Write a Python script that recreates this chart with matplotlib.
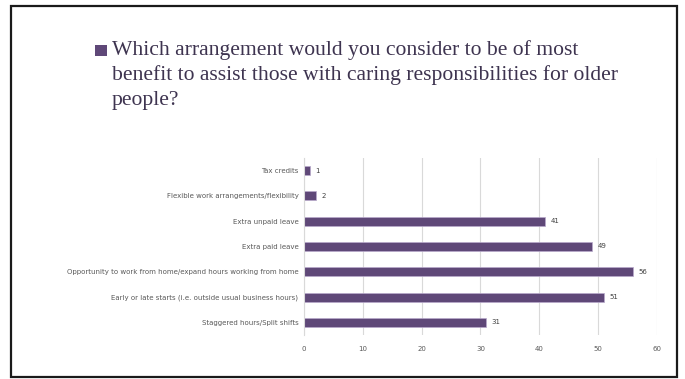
import matplotlib
matplotlib.use("Agg")
from matplotlib import pyplot as plt
from matplotlib.patches import Rectangle

categories = [
    "Staggered hours/Split shifts",
    "Early or late starts (i.e. outside usual business hours)",
    "Opportunity to work from home/expand hours working from home",
    "Extra paid leave",
    "Extra unpaid leave",
    "Flexible work arrangements/flexibility",
    "Tax credits",
]
values = [31, 51, 56, 49, 41, 2, 1]
xticks = [0, 10, 20, 30, 40, 50, 60]
title_lines = [
    "Which arrangement would you consider to be of most",
    "benefit to assist those with caring responsibilities for older",
    "people?",
]

W, H = 685, 379
fig = plt.figure(figsize=(W / 100, H / 100), dpi=100)
fig.patch.set_facecolor("white")

# slide frame
fig.add_artist(Rectangle((11 / W, 1 - 377 / H), 666 / W, 371 / H, transform=fig.transFigure,
                         fill=False, edgecolor="#1a1a1a", linewidth=1.6))

# bullet + question, one line at a time (baselines 55, 80, 105 px)
fig.add_artist(Rectangle((95 / W, 1 - 56 / H), 12 / W, 11 / H, transform=fig.transFigure,
                         facecolor="#5f4878", edgecolor="none"))
for i, line in enumerate(title_lines):
    fig.text(112 / W, 1 - (55 + 25 * i) / H, line, ha="left", va="baseline",
             fontsize=15.6, family="Liberation Serif", color="#3e3450")

bar_color = "#5f4878"
ax = fig.add_axes([304 / W, 1 - 335 / H, (657 - 304) / W, (335 - 158) / H])
y = range(len(categories))
bars = ax.barh(y, values, height=0.36, color=bar_color, edgecolor="#b9a9cc", linewidth=0.5)
for rect, v in zip(bars, values):
    ax.text(rect.get_width() + 0.9, rect.get_y() + rect.get_height() / 2, str(v),
            va="center", ha="left", fontsize=5, color="#404040")

ax.set_xlim(0, 60)
ax.set_ylim(-0.5, len(categories) - 0.5)
ax.set_xticks(xticks)
ax.set_yticks(list(y))
ax.set_yticklabels(categories)
ax.tick_params(axis="both", length=0, labelsize=5, colors="#595959")
ax.tick_params(axis="x", pad=8)
ax.tick_params(axis="y", pad=4)
ax.xaxis.grid(True, color="#d9d9d9", linewidth=0.8)
ax.set_axisbelow(True)
for s in ["top", "right", "bottom"]:
    ax.spines[s].set_visible(False)
ax.spines["left"].set_color("#d9d9d9")
ax.spines["left"].set_linewidth(0.8)

fig.savefig("out.png", dpi=100)
